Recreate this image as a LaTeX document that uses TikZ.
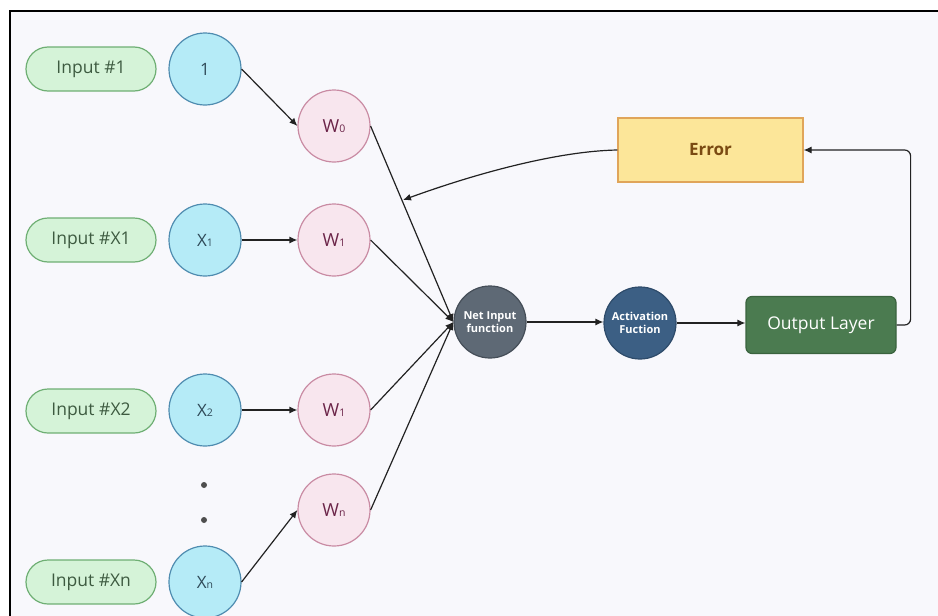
\documentclass[tikz,border=0pt]{standalone}
\usepackage{fontspec}
\setmainfont{Open Sans}
\usetikzlibrary{arrows.meta,calc}
\definecolor{bgc}{HTML}{F8F8FC}
\definecolor{pillfill}{HTML}{D5F3D8}
\definecolor{pilldraw}{HTML}{6FAF74}
\definecolor{pilltext}{HTML}{3D5A40}
\definecolor{bluefill}{HTML}{B5EBF7}
\definecolor{bluedraw}{HTML}{4F8CB0}
\definecolor{bluetext}{HTML}{2F4A58}
\definecolor{pinkfill}{HTML}{F8E6EE}
\definecolor{pinkdraw}{HTML}{C98BA3}
\definecolor{pinktext}{HTML}{6B2448}
\definecolor{netfill}{HTML}{5E6975}
\definecolor{netdraw}{HTML}{454E58}
\definecolor{actfill}{HTML}{3C5F84}
\definecolor{actdraw}{HTML}{2E4B6A}
\definecolor{outfill}{HTML}{4B7B50}
\definecolor{outdraw}{HTML}{3A633E}
\definecolor{errfill}{HTML}{FCE699}
\definecolor{errdraw}{HTML}{E0A55A}
\definecolor{errtext}{HTML}{7A4A12}
\definecolor{linec}{HTML}{222222}
\newcommand{\sbs}[1]{{\fontsize{10.5}{10}\selectfont #1}}
\tikzset{
  pill/.style={draw=pilldraw, fill=pillfill, line width=1.2pt, rounded corners=22pt,
    minimum width=130pt, minimum height=44pt, text=pilltext, font=\fontsize{17.5}{19}\selectfont},
  bluec/.style={circle, draw=bluedraw, fill=bluefill, line width=1.2pt, minimum size=72pt,
    inner sep=0pt, text=bluetext, font=\fontsize{17}{18}\selectfont},
  pinkc/.style={circle, draw=pinkdraw, fill=pinkfill, line width=1.2pt, minimum size=72pt,
    inner sep=0pt, text=pinktext, font=\fontsize{18}{18}\selectfont},
  darkc/.style={circle, line width=1.2pt, minimum size=72pt, inner sep=0pt, text=white,
    align=center, font=\bfseries\fontsize{11}{13.5}\selectfont},
  conn/.style={draw=linec, line width=1.2pt, -{Latex[length=8pt,width=7pt]}},
  dotc/.style={circle, fill=linec!80, inner sep=0pt, minimum size=6pt}
}
\begin{document}
\begin{tikzpicture}[x=1pt,y=-1pt]
\useasboundingbox (0,0) rectangle (938,616);
\fill[white] (0,0) rectangle (938,616);
\fill[bgc] (10,11) rectangle (938,616);
\draw[black, line width=2pt] (10,616) -- (10,11) -- (938,11);

% inputs
\node[pill] (in1) at (91,69) {Input \#1};
\node[pill] (in2) at (91,240) {Input \#X1};
\node[pill] (in3) at (91,411) {Input \#X2};
\node[pill] (in4) at (91,582) {Input \#Xn};

% x circles
\node[bluec] (x0) at (205,69) {1};
\node[bluec] (x1) at (205,240) {X\sbs{1}};
\node[bluec] (x2) at (205,410) {X\sbs{2}};
\node[bluec] (xn) at (205,582) {X\sbs{n}};
\node[dotc] (d1) at (204,485) {};
\node[dotc] (d2) at (204,520) {};

% weights
\node[pinkc] (w0) at (334,126) {W\sbs{0}};
\node[pinkc] (w1) at (334,240) {W\sbs{1}};
\node[pinkc] (w2) at (334,410) {W\sbs{1}};
\node[pinkc] (wn) at (334,510) {W\sbs{n}};

% net, activation
\node[darkc, draw=netdraw, fill=netfill] (net) at (490,322) {Net Input\\function};
\node[darkc, draw=actdraw, fill=actfill] (act) at (640,323) {Activation\\Fuction};

% output and error
\node[draw=outdraw, fill=outfill, rounded corners=6pt, line width=1.2pt,
  minimum width=150pt, minimum height=57pt, text=white,
  font=\fontsize{17.5}{18}\selectfont] (out) at (821,325) {Output Layer};
\node[draw=errdraw, fill=errfill, line width=1.2pt, minimum width=185pt, minimum height=64pt,
  text=errtext, font=\bfseries\fontsize{17}{18}\selectfont] (err) at (710.5,150) {Error};

\coordinate (fb) at (403,200);

% connectors
\draw[conn] (x0.east) -- (w0.west);
\draw[conn] (x1) -- (w1);
\draw[conn] (x2) -- (w2);
\draw[conn] (xn.east) -- (wn.west);

\draw[conn] (w0.east) -- (net.west);
\draw[conn] (w1.east) -- (net.west);
\draw[conn] (w2.east) -- (net.west);
\draw[conn] (wn.east) -- (net.west);

\draw[conn] (net) -- (net -| act.west);
\draw[conn] (act.east) -- (act.east -| out.west);
\draw[conn, rounded corners=6pt] (out.east) -- ++(14,0) |- (err.east);
\draw[conn] (err.west) .. controls (560,151) and (480,172) .. (fb);
\end{tikzpicture}
\end{document}
